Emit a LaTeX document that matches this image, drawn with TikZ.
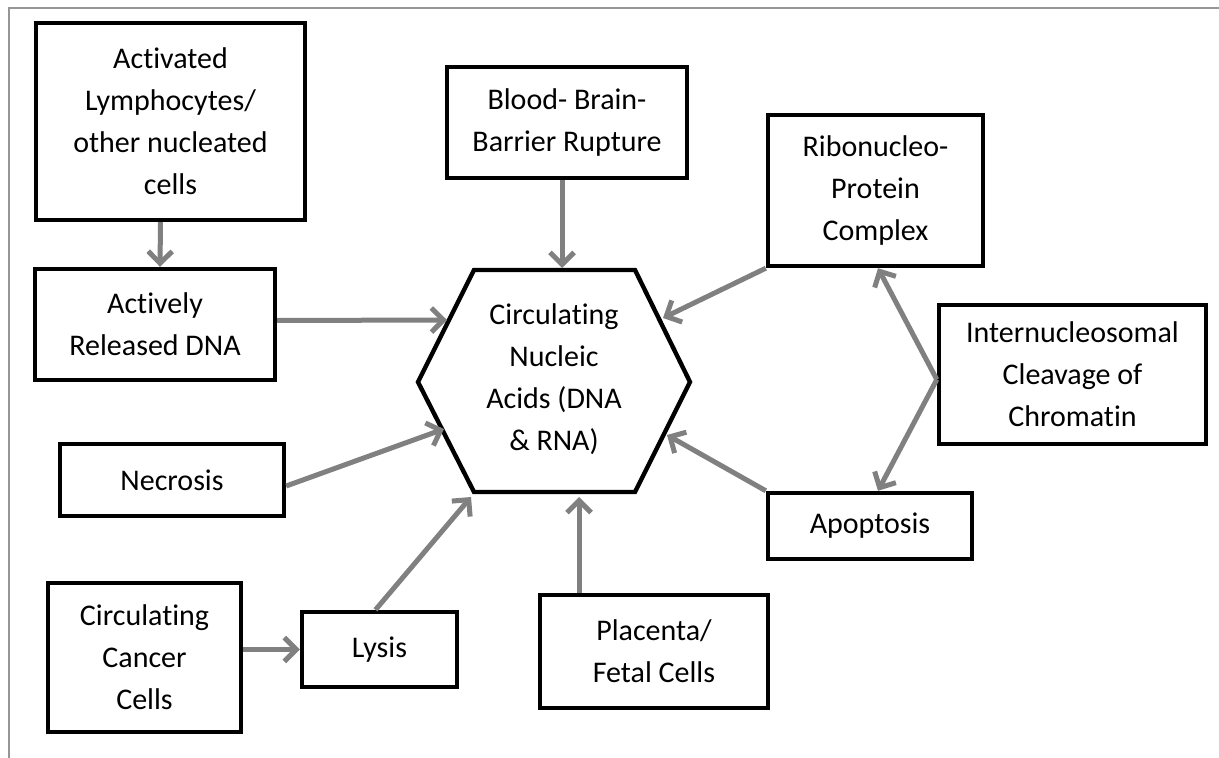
\documentclass[tikz,border=0pt]{standalone}
\usepackage{fontspec}
\setmainfont{Carlito}[Ligatures=NoCommon]
\usetikzlibrary{arrows.meta}
\begin{document}
\begin{tikzpicture}[x=0.5pt,y=-0.5pt,
  txt/.style={font=\fontsize{15}{21}\selectfont},
  bx/.style={draw=black, line width=2.2pt, align=center, inner sep=0pt, txt},
  hexline/.style={draw=black, line width=2.2pt, line join=miter},
  arr/.style={draw={rgb,255:red,128;green,128;blue,128}, line width=2.5pt,
    -{Straight Barb[length=6pt,width=12pt]}},
  frameline/.style={draw={rgb,255:red,150;green,150;blue,150}, line width=1.2pt}]
\useasboundingbox (0,0) rectangle (1219,758);
\fill[white] (0,0) rectangle (1219,758);
\draw[frameline] (9,758) -- (9,8) -- (1219,8);

% boxes
\node[bx, minimum width=134.5pt, minimum height=98.5pt] (act) at (170.5,121.5) {Activated\\Lymphocytes/\\other nucleated\\cells};
\node[bx, minimum width=120pt, minimum height=55.5pt] (rel) at (155,324.5) {Actively\\Released DNA};
\node[bx, minimum width=112pt, minimum height=36pt] (nec) at (172,480) {Necrosis};
\node[bx, minimum width=96.5pt, minimum height=74.5pt] (ccc) at (144.5,657.5) {Circulating\\Cancer\\Cells};
\node[bx, minimum width=77.5pt, minimum height=37.5pt] (lys) at (379.5,649.5) {Lysis};
\node[bx, minimum width=120pt, minimum height=55.5pt] (bbb) at (567,122.5) {Blood- Brain-\\Barrier Rupture};
\node[bx, minimum width=107.5pt, minimum height=75.5pt] (rib) at (875.5,190.5) {Ribonucleo-\\Protein\\Complex};
\node[bx, minimum width=133.5pt, minimum height=69.5pt] (int) at (1072.5,374.5) {Internucleosomal\\Cleavage of\\Chromatin};
\node[bx, minimum width=102pt, minimum height=33pt] (apo) at (870,526) {Apoptosis};
\node[bx, minimum width=114pt, minimum height=56.5pt] (pla) at (654,651.5) {Placenta/\\Fetal Cells};

% hexagon
\coordinate (h1) at (474,270);
\coordinate (h2) at (635,270);
\coordinate (h3) at (690,382);
\coordinate (h4) at (635,492);
\coordinate (h5) at (474,492);
\coordinate (h6) at (418,382);
\draw[hexline] (h1) -- (h2) -- (h3) -- (h4) -- (h5) -- (h6) -- cycle;
\node[align=center, inner sep=0pt, txt] (hex) at (554,379) {Circulating\\Nucleic\\Acids (DNA\\\& RNA)};

% arrow targets on hexagon
\coordinate (tRel) at (447,320);
\coordinate (tNec) at (444,429);
\coordinate (tLys) at (471,497);
\coordinate (tPla) at (579,497);
\coordinate (tBbb) at (562,268);
\coordinate (tRib) at (663,318);
\coordinate (tApo) at (667,435);

% connectors
\draw[arr] ([xshift=-5pt]act.south) -- ([xshift=2.5pt]rel.north);
\draw[arr] ([xshift=-2.5pt]bbb.south) -- (tBbb);
\draw[arr] ([yshift=2pt]rel.east) -- (tRel);
\draw[arr] ([yshift=-3pt]nec.east) -- (tNec);
\draw[arr] ([xshift=-2pt]lys.north) -- (tLys);
\draw[arr] (ccc.east |- lys.west) -- (lys.west);
\draw[arr] ([xshift=-37.5pt]pla.north) -- (tPla);
\draw[arr] (rib.south west) -- (tRib);
\draw[arr] (apo.north west) -- (tApo);
\draw[arr] ([yshift=-2.5pt]int.west) -- ([xshift=1.25pt]rib.south);
\draw[arr] ([yshift=-2.5pt]int.west) -- ([xshift=4pt]apo.north);
\end{tikzpicture}
\end{document}
